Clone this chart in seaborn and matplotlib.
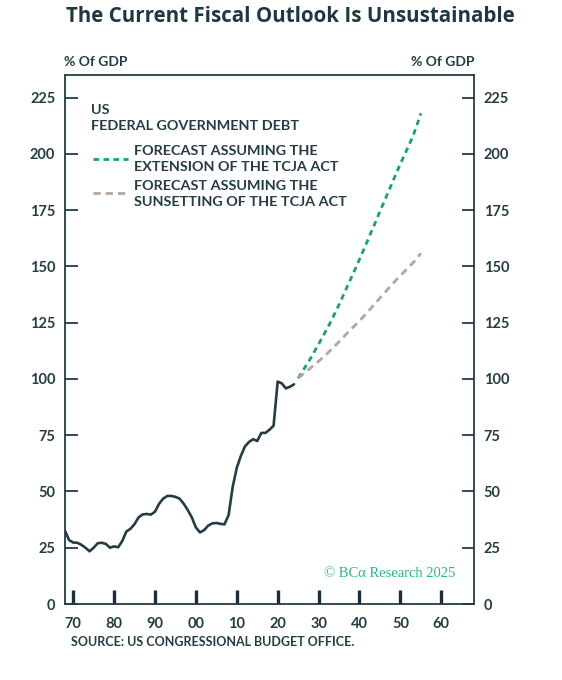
import matplotlib
matplotlib.use("Agg")
import matplotlib.pyplot as plt
import seaborn as sns
import pandas as pd
from matplotlib.lines import Line2D

# ---------------- data ----------------
hist_years = list(range(1968, 2025))
hist_debt = [32.5, 28.4, 27.3, 27.2, 26.3, 25.0, 23.4, 25.0, 27.0, 27.2, 26.7, 25.0,
             25.6, 25.2, 28.0, 32.2, 33.4, 35.5, 38.5, 39.8, 40.0, 39.7, 41.0, 44.5,
             46.8, 48.0, 48.0, 47.6, 46.8, 44.6, 41.8, 38.5, 34.0, 31.8, 32.8, 34.8,
             35.8, 36.0, 35.6, 35.4, 39.5, 52.0, 60.5, 65.8, 70.0, 72.0, 73.2, 72.4,
             76.0, 76.0, 77.4, 79.2, 98.8, 98.0, 95.8, 96.5, 97.6]

fc_years = list(range(2025, 2056))
fc_extension = [100.3, 103.2, 106.1, 109.0, 112.2, 115.4, 118.7, 122.0, 125.5, 129.2,
                133.0, 137.0, 141.0, 145.0, 149.0, 153.1, 157.3, 161.5, 165.8, 170.0,
                174.4, 178.6, 182.9, 187.1, 191.4, 195.5, 199.5, 203.4, 207.6, 212.5,
                218.0]
fc_sunset = [100.3, 101.8, 103.3, 104.8, 106.3, 107.8, 109.4, 111.1, 112.9, 114.7,
             116.5, 118.4, 120.3, 122.1, 124.0, 125.8, 127.7, 129.7, 131.8, 133.8,
             135.9, 137.9, 140.0, 142.0, 144.0, 145.9, 147.7, 149.6, 151.4, 153.4,
             155.8]

x_ticks = [1970, 1980, 1990, 2000, 2010, 2020, 2030, 2040, 2050, 2060]
x_ticklabels = ["70", "80", "90", "00", "10", "20", "30", "40", "50", "60"]
y_ticks = [0, 25, 50, 75, 100, 125, 150, 175, 200, 225]

title = "The Current Fiscal Outlook Is Unsustainable"
series_title = "US\nFEDERAL GOVERNMENT DEBT"
label_ext = "FORECAST ASSUMING THE\nEXTENSION OF THE TCJA ACT"
label_sun = "FORECAST ASSUMING THE\nSUNSETTING OF THE TCJA ACT"
source = "SOURCE: US CONGRESSIONAL BUDGET OFFICE."
copyright_txt = "© BCα Research 2025"

# ---------------- style ----------------
sns.set_style("white")
plt.rcParams["font.family"] = ["Lato", "DejaVu Sans"]

DARK = "#243c44"
GREEN = "#1a9e74"
GRAY = "#b3a79d"
EXT_DASH = (0, (2.0, 1.6))
SUN_DASH = (0, (2.6, 1.8))

hist_df = pd.DataFrame({"year": hist_years, "debt": hist_debt})
fc_df = pd.DataFrame({"year": fc_years, "ext": fc_extension, "sun": fc_sunset})

fig = plt.figure(figsize=(5.62, 6.80), dpi=100)
ax = fig.add_axes([65 / 562, 1 - 604 / 680, 409 / 562, 529 / 680])

sns.lineplot(data=hist_df, x="year", y="debt", ax=ax, color=DARK, lw=1.9)
sns.lineplot(data=fc_df, x="year", y="ext", ax=ax, color=GREEN, lw=2.0,
             linestyle=EXT_DASH)
sns.lineplot(data=fc_df, x="year", y="sun", ax=ax, color=GRAY, lw=2.0,
             linestyle=SUN_DASH)

ax.set_xlim(1968, 2068)
ax.set_ylim(0, 235)
ax.set_xlabel("")
ax.set_ylabel("")

for s in ax.spines.values():
    s.set_color(DARK)
    s.set_linewidth(1.3)
    s.set_visible(True)

ax.set_xticks(x_ticks)
ax.set_xticklabels(x_ticklabels)
ax.set_yticks(y_ticks)
ax.tick_params(axis="x", direction="in", length=10, width=2.4, color="#1c2f36",
               labelsize=10.5, labelcolor=DARK, pad=9, bottom=True, top=False)
ax.tick_params(axis="y", direction="in", length=9, width=1.3, color=DARK,
               labelsize=10.5, labelcolor=DARK, pad=7, left=True, right=True,
               labelleft=True, labelright=True)
for lab in ax.get_xticklabels() + ax.get_yticklabels():
    lab.set_fontweight("bold")
for t in ax.yaxis.get_major_ticks():
    t.label2.set_fontweight("bold")
    t.label2.set_color(DARK)

# series header
ax.text(26 / 409, (604 - 104) / 529, series_title, transform=ax.transAxes,
        ha="left", va="top", fontsize=10.4, fontweight="bold", color=DARK,
        linespacing=1.4)

# legend
handles = [Line2D([], [], color=GREEN, lw=2.0, linestyle=EXT_DASH),
           Line2D([], [], color=GRAY, lw=2.0, linestyle=SUN_DASH)]
leg = ax.legend(handles, [label_ext, label_sun], loc="upper left",
                bbox_to_anchor=(28 / 409, (604 - 145) / 529), frameon=False,
                prop={"size": 10.4, "weight": "bold"},
                handlelength=2.45, handletextpad=0.36, labelspacing=0.45,
                borderpad=0, borderaxespad=0)
for t in leg.get_texts():
    t.set_color(DARK)
    t.set_linespacing(1.4)

# text around
fig.text(290.5 / 562, 1 - 17 / 680, title, ha="center", va="center",
         fontsize=14.8, fontweight="bold", color="#1e3842",
         family=["Open Sans", "DejaVu Sans"])
fig.text(64 / 562, 1 - 62 / 680, "% Of GDP", ha="left", va="center",
         fontsize=10, fontweight="bold", color=DARK)
fig.text(474 / 562, 1 - 62 / 680, "% Of GDP", ha="right", va="center",
         fontsize=10, fontweight="bold", color=DARK)
fig.text(71 / 562, 1 - 642 / 680, source, ha="left", va="center",
         fontsize=9.0, fontweight="bold", color=DARK)
ax.text(0.955, 0.058, copyright_txt, transform=ax.transAxes, ha="right",
        va="center", fontsize=10.5, color="#2bb58a",
        family=["Liberation Serif", "DejaVu Serif"])

fig.savefig("out.png", dpi=100)
